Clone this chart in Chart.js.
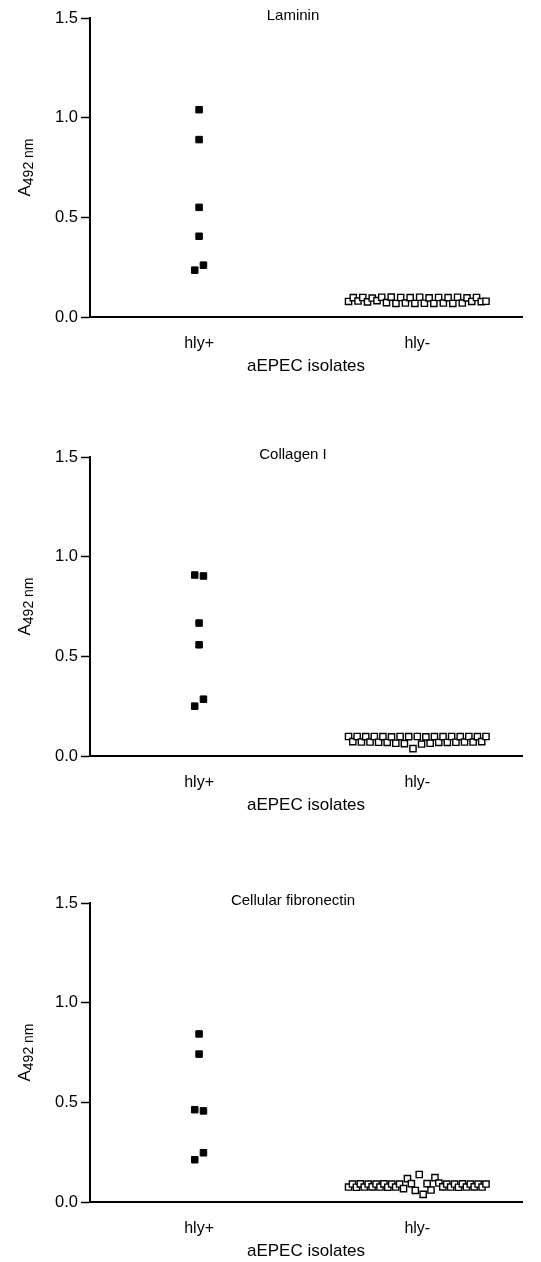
<!DOCTYPE html>
<html>
<head>
<meta charset="utf-8">
<script src="https://cdn.jsdelivr.net/npm/chart.js@4.4.1/dist/chart.umd.min.js"></script>
<style>
html, body { margin: 0; padding: 0; background: #fff; overflow: hidden; }
.panel { position: absolute; left: 0; width: 541px; height: 377px; }
</style>
</head>
<body>
<div class="panel" style="top:0px"><canvas id="lamininChart" width="541" height="377"></canvas></div>
<div class="panel" style="top:439px"><canvas id="collagenChart" width="541" height="377"></canvas></div>
<div class="panel" style="top:885px"><canvas id="fibronectinChart" width="541" height="377"></canvas></div>
<script>
const groups = ['hly+', 'hly-'];
const yTicks = [0, 0.5, 1.0, 1.5];
const xTitle = 'aEPEC isolates';

const lamininHlyPos = [1.04, 0.89, 0.55, 0.405, 0.235, 0.26];
const lamininHlyNeg = [0.078, 0.097, 0.080, 0.098, 0.076, 0.095, 0.082, 0.099, 0.072, 0.100,
  0.068, 0.098, 0.070, 0.097, 0.068, 0.099, 0.069, 0.096, 0.068, 0.098,
  0.070, 0.097, 0.068, 0.099, 0.070, 0.096, 0.078, 0.098, 0.077, 0.079];

const collagenHlyPos = [0.908, 0.903, 0.667, 0.558, 0.25, 0.285];
const collagenHlyNeg = [0.098, 0.072, 0.098, 0.070, 0.097, 0.070, 0.098, 0.069, 0.097, 0.068,
  0.096, 0.064, 0.098, 0.062, 0.097, 0.037, 0.098, 0.060, 0.096, 0.064,
  0.097, 0.068, 0.097, 0.068, 0.098, 0.069, 0.097, 0.070, 0.098, 0.070,
  0.097, 0.072, 0.098];

const fibronectinHlyPos = [0.843, 0.742, 0.463, 0.457, 0.212, 0.247];
const fibronectinHlyNeg = [0.075, 0.090, 0.074, 0.091, 0.075, 0.090, 0.076, 0.090, 0.075, 0.091,
  0.074, 0.090, 0.075, 0.090,
  0.067, 0.117, 0.092, 0.058, 0.138, 0.038, 0.092, 0.060, 0.122, 0.095,
  0.076, 0.090, 0.075, 0.090, 0.074, 0.091, 0.075, 0.090, 0.076, 0.090, 0.075, 0.090];

// spread points that would sit on top of each other, like a column scatter plot
const MARKER_Y = 0.0375;
const MARKER_X = 0.04;
const MAX_SPREAD = 0.63;

function swarm(values, center) {
  const order = values.map((v, i) => i).sort((a, b) => values[a] - values[b]);
  const rows = [];
  order.forEach(i => {
    const row = rows[rows.length - 1];
    if (row && values[i] - values[row[row.length - 1]] < MARKER_Y) row.push(i);
    else rows.push([i]);
  });
  const pts = [];
  rows.forEach(row => {
    row.sort((a, b) => a - b);
    const n = row.length;
    const step = n > 1 ? Math.min(MARKER_X, MAX_SPREAD / (n - 1)) : 0;
    row.forEach((idx, k) => pts.push({ x: center + (k - (n - 1) / 2) * step, y: values[idx] }));
  });
  return pts;
}

Chart.defaults.font.family = '"Liberation Sans", Arial, sans-serif';
Chart.defaults.color = '#000';

const panelText = {
  id: 'panelText',
  afterDraw(chart, args, opts) {
    const { ctx, chartArea } = chart;
    ctx.save();
    ctx.fillStyle = '#000';
    ctx.textBaseline = 'alphabetic';
    ctx.textAlign = 'center';
    ctx.font = '15px "Liberation Sans", Arial, sans-serif';
    ctx.fillText(opts.title, 293, chartArea.top + 2);

    // y axis title: A with subscript 492
    const yMid = (chartArea.top + chartArea.bottom) / 2;
    ctx.translate(30, yMid);
    ctx.rotate(-Math.PI / 2);
    ctx.textAlign = 'left';
    const big = '17px "Liberation Sans", Arial, sans-serif';
    const small = '14px "Liberation Sans", Arial, sans-serif';
    ctx.font = big;
    const wA = ctx.measureText('A').width;
    ctx.font = small;
    const wSub = ctx.measureText('492 nm').width;
    const x0 = -(wA + wSub) / 2;
    ctx.font = big;
    ctx.fillText('A', x0, 0);
    ctx.font = small;
    ctx.fillText('492 nm', x0 + wA, 3);
    ctx.restore();
  }
};

function makeChart(id, title, posValues, negValues) {
  const ctx = document.getElementById(id).getContext('2d');
  return new Chart(ctx, {
    type: 'scatter',
    data: {
      datasets: [{
        label: groups[0],
        data: swarm(posValues, 1),
        pointStyle: 'rect',
        pointRadius: 4.6,
        backgroundColor: '#000',
        borderColor: '#000',
        borderWidth: 1
      }, {
        label: groups[1],
        data: swarm(negValues, 2),
        pointStyle: 'rect',
        pointRadius: 4.4,
        backgroundColor: '#fff',
        borderColor: '#000',
        borderWidth: 1.4
      }]
    },
    options: {
      responsive: false,
      animation: false,
      layout: { padding: { top: 18, right: 19, bottom: 0, left: 0 } },
      plugins: {
        legend: { display: false },
        tooltip: { enabled: false },
        panelText: { title: title }
      },
      scales: {
        x: {
          type: 'linear',
          min: 0.5,
          max: 2.48,
          afterFit: s => { s.height = 60; },
          afterBuildTicks: s => { s.ticks = groups.map((g, i) => ({ value: i + 1 })); },
          grid: { display: false },
          border: { display: true, color: '#000', width: 2 },
          ticks: {
            padding: 9,
            font: { size: 16 },
            color: '#000',
            callback: v => groups[v - 1]
          },
          title: {
            display: true,
            text: xTitle,
            font: { size: 17 },
            color: '#000',
            padding: { top: 0, bottom: 0 }
          }
        },
        y: {
          min: 0,
          max: 1.5,
          afterFit: s => { s.width = 90; },
          afterBuildTicks: s => { s.ticks = yTicks.map(v => ({ value: v })); },
          grid: {
            drawOnChartArea: false,
            drawTicks: true,
            tickLength: 9,
            tickWidth: 1.5,
            tickColor: '#000'
          },
          border: { display: true, color: '#000', width: 2 },
          ticks: {
            padding: 3,
            font: { size: 16.5 },
            color: '#000',
            callback: v => v.toFixed(1)
          }
        }
      }
    },
    plugins: [panelText]
  });
}

makeChart('lamininChart', 'Laminin', lamininHlyPos, lamininHlyNeg);
makeChart('collagenChart', 'Collagen I', collagenHlyPos, collagenHlyNeg);
makeChart('fibronectinChart', 'Cellular fibronectin', fibronectinHlyPos, fibronectinHlyNeg);
</script>
</body>
</html>
